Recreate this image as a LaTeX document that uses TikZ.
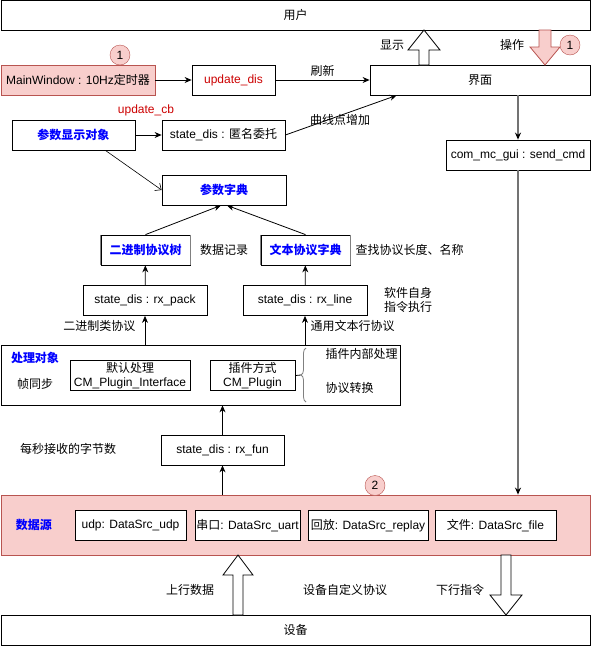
\documentclass[tikz,border=0pt]{standalone}
\usepackage{fontspec}
\setmainfont{Liberation Sans}
\newfontfamily\zhfont{Noto Sans CJK SC}
\newcommand{\cn}[1]{{\zhfont #1}}
\usepackage{tikz}
\usetikzlibrary{arrows.meta, positioning, calc, decorations.pathreplacing}
\definecolor{pinkfill}{HTML}{F8CECC}
\definecolor{pinkline}{HTML}{B85450}
\definecolor{darkred}{HTML}{CC0000}
\definecolor{linkblue}{HTML}{0000FF}

\begin{document}
\begin{tikzpicture}[
    x=1pt, y=-1pt,
    font=\fontsize{12}{14.5}\selectfont,
    box/.style={rectangle, draw, line width=0.8pt, inner sep=0pt,
                minimum height=30pt, fill=white},
    pinkbox/.style={box, fill=pinkfill, draw=pinkline},
    heading/.style={font=\fontsize{12}{14.5}\selectfont\bfseries, text=linkblue},
    edge/.style={-{Stealth[length=7pt,width=6pt]}, line width=0.8pt},
    feed/.style={-{Stealth[length=7pt,width=6pt,color=black]}, draw=black!55, line width=1.3pt},
    hollow/.style={draw, line width=0.8pt, fill=white},
    badge/.style={circle, draw=pinkline, fill=pinkfill, minimum size=20pt, inner sep=0pt}
  ]
    \useasboundingbox (0,0) rectangle (592,646);

    % User and UI
    \node[box, minimum width=589pt] (user) at (295.5,15) {\cn{用户}};
    \node[box, minimum width=220pt] (ui) at (480,80) {\cn{界面}};
    \node[pinkbox, minimum width=154pt] (mainwin) at (78,80) {MainWindow : 10Hz\cn{定时器}};
    \node[box, minimum width=83pt, text=darkred] (upd) at (233.5,80) {update\_dis};
    \node[text=darkred] (cblbl) at (146,110) {update\_cb};
    \node[box, minimum width=123pt, heading] (dispobj) at (73.5,135) {\cn{参数显示对象}};
    \node[box, minimum width=123pt] (anon) at (223.5,135) {state\_dis : \cn{匿名委托}};
    \node[box, minimum width=144pt] (sendcmd) at (518,155) {com\_mc\_gui : send\_cmd};

    % Parameter dictionary
    \node[box, minimum width=124pt, heading] (dict) at (224,190) {\cn{参数字典}};
    \node[box, minimum width=89pt, heading] (bintree) at (145.5,250) {\cn{二进制协议树}};
    \node[box, minimum width=89pt, heading] (txtdict) at (305.5,250) {\cn{文本协议字典}};
    \draw[gray, line width=1.6pt] (bintree.north west) -- (bintree.south west)
                                  (bintree.north east) -- (bintree.south east)
                                  (txtdict.north west) -- (txtdict.south west)
                                  (txtdict.north east) -- (txtdict.south east);
    \node[box, minimum width=124pt] (rxpack) at (145,300.5) {state\_dis : rx\_pack};
    \node[box, minimum width=124pt] (rxline) at (305,300.5) {state\_dis : rx\_line};

    % Processing object
    \node[box, minimum width=399pt, minimum height=60pt] (proc) at (200.5,375) {};
    \node[heading] (proclbl) at (35,358) {\cn{处理对象}};
    \node (framesync) at (35,384) {\cn{帧同步}};
    \node[box, minimum width=120pt, align=center] (defproc) at (130,375.5)
        {\cn{默认处理}\\CM\_Plugin\_Interface};
    \node[box, minimum width=85pt, align=center] (plugin) at (252.5,375.5)
        {\cn{插件方式}\\CM\_Plugin};
    \coordinate (bracetip) at (301,375);
    \node[anchor=west] (innerlbl) at (322,354) {\cn{插件内部处理}};
    \node[anchor=west] (convlbl) at (322,388) {\cn{协议转换}};
    \node[box, minimum width=123pt] (rxfun) at (222.5,450) {state\_dis : rx\_fun};

    % Data sources
    \node[pinkbox, minimum width=589pt, minimum height=60pt] (src) at (295.5,525) {};
    \node[heading] (srclbl) at (34,525) {\cn{数据源}};
    \node[box, minimum width=111pt] (udp) at (130.5,525.5) {udp: DataSrc\_udp};
    \node[box, minimum width=105pt] (uart) at (247.5,525.5) {\cn{串口}: DataSrc\_uart};
    \node[box, minimum width=120pt] (replay) at (368,525.5) {\cn{回放}: DataSrc\_replay};
    \node[box, minimum width=121pt] (file) at (495.5,525.5) {\cn{文件}: DataSrc\_file};
    \node[box, minimum width=589pt] (device) at (295.5,630) {\cn{设备}};

    % Connectors
    \draw[edge] (mainwin) -- (upd);
    \draw[edge] (upd) -- node[above] {\cn{刷新}} (ui);
    \draw[edge] (dispobj) -- (anon);
    \draw[edge] (anon.east) -- ($(ui.south west)+(27,0)$);
    \draw[-{Straight Barb[length=5pt,width=9pt]}, line width=0.6pt]
        ($(dispobj.south east)+(-30,0)$) -- (dict.west);
    \draw[edge] (bintree.north) -- ($(dict.south)+(-3,0)$);
    \draw[edge] (txtdict.north) -- ($(dict.south)+(3,0)$);
    \draw[edge] (rxpack) -- (bintree);
    \draw[edge] (rxline) -- (txtdict);
    \draw[edge] (proc.north -| rxpack) -- node[left=6pt, yshift=4pt] {\cn{二进制类协议}} (rxpack);
    \draw[edge] (proc.north -| rxline) -- node[right=2pt, yshift=4pt] {\cn{通用文本行协议}} (rxline);
    \draw[edge] (rxfun) -- (rxfun |- proc.south);
    \draw[edge] (rxfun |- src.north) -- (rxfun);
    \draw[feed] (ui.south -| sendcmd) -- (sendcmd);
    \draw[feed] (sendcmd) -- (sendcmd |- src.north);
    \draw[line width=0.8pt] (plugin.east) -- (bracetip);
    \draw[gray, line width=0.8pt, decorate, decoration={brace, amplitude=5pt}]
        (306,402) -- (306,348);

    % Block arrows
    \draw[hollow] (419,65) -- (419,50) -- (408,50) -- (424,30) -- (440,50)
        -- (429,50) -- (429,65) -- cycle;
    \draw[hollow, fill=pinkfill, draw=pinkline] (539,30) -- (539,47) -- (530,47)
        -- (545,65) -- (560,47) -- (551,47) -- (551,30) -- cycle;
    \draw[hollow] (233,615) -- (233,575) -- (223,575) -- (238,555) -- (253,575)
        -- (243,575) -- (243,615) -- cycle;
    \draw[hollow] (501,555) -- (501,595) -- (490,595) -- (506,615) -- (522,595)
        -- (511,595) -- (511,555) -- cycle;

    % Labels
    \node (showlbl) at (392,45) {\cn{显示}};
    \node (oplbl) at (512,45) {\cn{操作}};
    \node (curvelbl) at (340,120) {\cn{曲线点增加}};
    \node (reclbl) at (224,250) {\cn{数据记录}};
    \node[anchor=west] (findlbl) at (352,250) {\cn{查找协议长度、名称}};
    \node[align=center] (selflbl) at (408,300) {\cn{软件自身}\\\cn{指令执行}};
    \node (ratelbl) at (68,449) {\cn{每秒接收的字节数}};
    \node (uplbl) at (190,590) {\cn{上行数据}};
    \node (protolbl) at (345,590) {\cn{设备自定义协议}};
    \node (downlbl) at (460,590) {\cn{下行指令}};

    % Markers
    \node[badge] (m1a) at (120,55) {1};
    \node[badge] (m1b) at (570,45) {1};
    \node[badge] (m2) at (375,485.5) {2};
  \end{tikzpicture}
\end{document}
